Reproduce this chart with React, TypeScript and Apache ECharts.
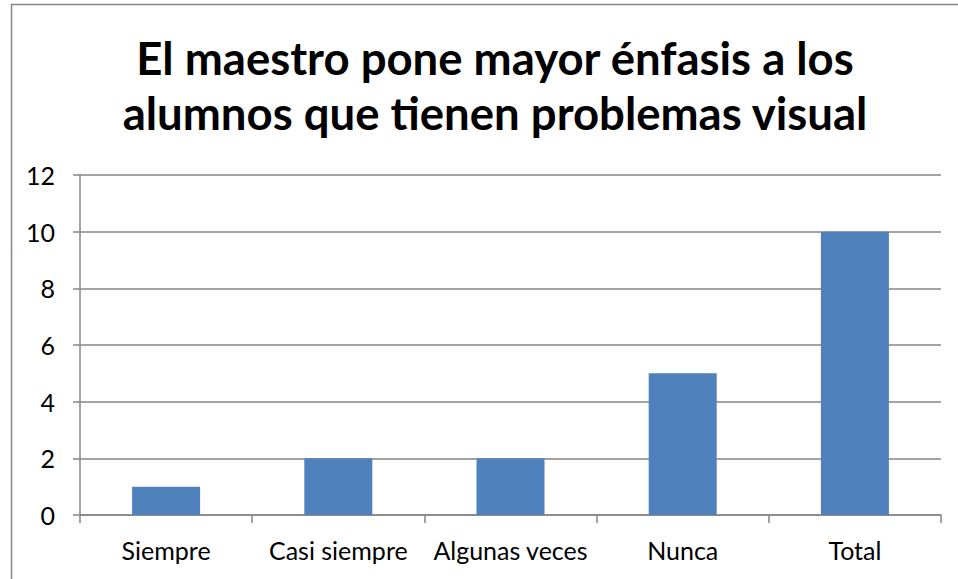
import React, { useEffect, useRef } from "react";
import * as echarts from "echarts";

const categories = ["Siempre", "Casi siempre", "Algunas veces", "Nunca", "Total"];
const values = [1, 2, 2, 5, 10];
const titleText = "El maestro pone mayor énfasis a los\nalumnos que tienen problemas visual";

export default function App() {
  const ref = useRef<HTMLDivElement>(null);
  useEffect(() => {
    document.body.style.margin = "0";
    const chart = echarts.init(ref.current!, null, { renderer: "svg" });
    const gray = "#868686";
    chart.setOption({
      animation: false,
      backgroundColor: "#ffffff",
      title: {
        text: titleText,
        left: 490,
        textAlign: "center",
        top: 25,
        textStyle: {
          fontFamily: "Lato",
          fontWeight: "bold",
          fontSize: 45.5,
          lineHeight: 55,
          color: "#000000",
        },
      },
      graphic: [
        {
          type: "rect",
          shape: { x: 11.5, y: 4.5, width: 1000, height: 700 },
          style: { fill: "none", stroke: gray, lineWidth: 1.5 },
          silent: true,
        },
      ],
      grid: { left: 80, right: 17, top: 175, bottom: 64, containLabel: false },
      xAxis: {
        type: "category",
        data: categories,
        axisLine: { show: true, lineStyle: { color: gray, width: 1.5 } },
        axisTick: { show: true, interval: 0, length: 8, lineStyle: { color: gray, width: 1.5 } },
        axisLabel: {
          interval: 0,
          color: "#000000",
          fontFamily: "Lato",
          fontSize: 25,
          margin: 22,
        },
      },
      yAxis: {
        type: "value",
        min: 0,
        max: 12,
        interval: 2,
        axisLine: { show: true, lineStyle: { color: gray, width: 1.5 } },
        axisTick: { show: true, length: 7, lineStyle: { color: gray, width: 1.5 } },
        axisLabel: {
          color: "#000000",
          fontFamily: "Lato",
          fontSize: 25,
          margin: 25,
        },
        splitLine: { show: true, lineStyle: { color: gray, width: 1.5 } },
      },
      series: [
        {
          type: "bar",
          data: values,
          barWidth: 68,
          itemStyle: { color: "#4F81BD" },
        },
      ],
    });
    return () => chart.dispose();
  }, []);
  return <div ref={ref} style={{ width: 958, height: 579 }} />;
}
